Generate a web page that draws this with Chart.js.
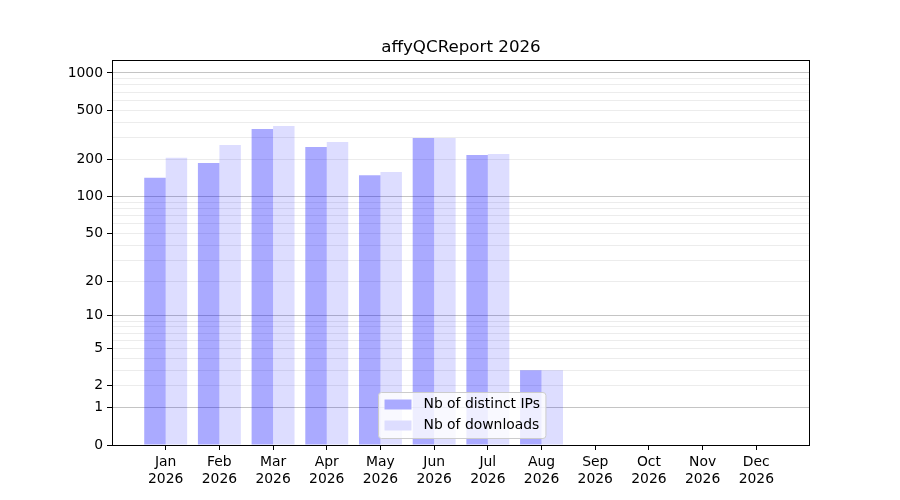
<!DOCTYPE html>
<html>
<head>
<meta charset="utf-8">
<title>affyQCReport 2026</title>
<script src="https://cdn.jsdelivr.net/npm/chart.js@4/dist/chart.umd.min.js"></script>
<style>
    body { margin: 0; background: #fff; }
    #wrap { width: 900px; height: 500px; }
</style>
</head>
<body>
<div id="wrap"><canvas id="statsChart" width="900" height="500"></canvas></div>
<script>
// Monthly download stats, y axis is log10(n + 1)
const chartTitle = 'affyQCReport 2026';
const months = ['Jan', 'Feb', 'Mar', 'Apr', 'May', 'Jun', 'Jul', 'Aug', 'Sep', 'Oct', 'Nov', 'Dec'];
const year = '2026';
const distinctIPs = [142, 187, 353, 252, 149, 298, 217, 3, 0, 0, 0, 0];
const downloads = [206, 262, 373, 277, 158, 298, 221, 3, 0, 0, 0, 0];
const yTickLabels = [0, 1, 2, 5, 10, 20, 50, 100, 200, 500, 1000];
const yMajorGrid = [1, 10, 100, 1000];
const yMinorGrid = [3, 4, 6, 7, 8, 9, 30, 40, 60, 70, 80, 90, 300, 400, 600, 700, 800, 900];
const yTop = 1273;

const FONT = 'DejaVu Sans';

function toLog(v) { return Math.log10(v + 1); }
function fromLog(v) { return Math.round(Math.pow(10, v) - 1); }

const yTickValues = yTickLabels.concat(yMinorGrid).sort((a, b) => a - b);

function series(values) {
    return values.map((v, i) => ({ x: i + 1, y: toLog(v) }));
}

// frame around the plot, like matplotlib spines
const framePlugin = {
    id: 'frame',
    afterDatasetsDraw(chart) {
        const a = chart.chartArea;
        const ctx = chart.ctx;
        ctx.save();
        ctx.strokeStyle = '#000';
        ctx.lineWidth = 1;
        ctx.strokeRect(a.left + 0.5, a.top + 0.5, a.right - a.left - 1, a.bottom - a.top);
        ctx.restore();
    }
};

const titlePlugin = {
    id: 'plotTitle',
    afterDraw(chart) {
        const a = chart.chartArea;
        const ctx = chart.ctx;
        ctx.save();
        ctx.font = '16.7px "' + FONT + '"';
        ctx.fillStyle = '#000';
        ctx.textAlign = 'center';
        ctx.textBaseline = 'alphabetic';
        ctx.fillText(chartTitle, (a.left + a.right) / 2, a.top - 8);
        ctx.restore();
    }
};

// legend box sitting inside the plot, lower centre
const legendPlugin = {
    id: 'innerLegend',
    afterDraw(chart) {
        const ctx = chart.ctx;
        const a = chart.chartArea;
        const sets = chart.data.datasets;
        ctx.save();
        ctx.font = '13.9px "' + FONT + '"';
        let textW = 0;
        sets.forEach(ds => { textW = Math.max(textW, ctx.measureText(ds.label).width); });
        const w = 6 + 27 + 12 + textW + 6;
        const h = 46;
        const x = 378.5;
        const y = a.bottom - 7 - h + 0.5;
        ctx.beginPath();
        ctx.roundRect(x, y, w, h, 3);
        ctx.fillStyle = 'rgba(255,255,255,0.8)';
        ctx.fill();
        ctx.strokeStyle = '#cccccc';
        ctx.lineWidth = 1;
        ctx.stroke();
        sets.forEach((ds, i) => {
            const cy = y + 12 + i * 21;
            ctx.fillStyle = 'rgba(255,255,255,1)';
            ctx.fillRect(x + 6, cy - 5, 27, 10);
            ctx.fillStyle = ds.backgroundColor;
            ctx.fillRect(x + 6, cy - 5, 27, 10);
            ctx.fillStyle = '#000';
            ctx.textAlign = 'left';
            ctx.textBaseline = 'middle';
            ctx.fillText(ds.label, x + 45, cy);
        });
        ctx.restore();
    }
};

new Chart(document.getElementById('statsChart'), {
    type: 'bar',
    data: {
        datasets: [{
            label: 'Nb of distinct IPs',
            data: series(distinctIPs),
            backgroundColor: 'rgba(0,0,255,0.333)',
            borderWidth: 0
        }, {
            label: 'Nb of downloads',
            data: series(downloads),
            backgroundColor: 'rgba(0,0,255,0.133)',
            borderWidth: 0
        }]
    },
    options: {
        responsive: false,
        animation: false,
        devicePixelRatio: 1,
        categoryPercentage: 0.8,
        barPercentage: 1.0,
        layout: { padding: { top: 60, right: 90, bottom: 0, left: 0 } },
        plugins: {
            legend: { display: false },
            title: { display: false },
            tooltip: { enabled: false }
        },
        scales: {
            x: {
                type: 'linear',
                min: 0,
                max: 13,
                offset: false,
                afterBuildTicks(scale) {
                    scale.ticks = months.map((m, i) => ({ value: i + 1 }));
                },
                afterFit(scale) { scale.height = 55; },
                border: { display: false },
                grid: {
                    offset: false,
                    drawOnChartArea: false,
                    drawTicks: true,
                    tickLength: 5,
                    tickColor: '#000'
                },
                ticks: {
                    autoSkip: false,
                    maxRotation: 0,
                    padding: 4,
                    color: '#000',
                    font: { family: FONT, size: 13.9 },
                    callback: (value) => [months[Math.round(value) - 1], year]
                }
            },
            y: {
                type: 'linear',
                min: 0,
                max: toLog(yTop),
                afterBuildTicks(scale) {
                    scale.ticks = yTickValues.map(v => ({ value: toLog(v) }));
                },
                afterFit(scale) { scale.width = 112; },
                border: { display: false },
                grid: {
                    tickLength: 5,
                    color: (c) => {
                        const v = fromLog(c.tick.value);
                        if (v === 0) return 'rgba(0,0,0,0)';
                        return yMajorGrid.includes(v) ? '#c4c4c4' : '#ececec';
                    },
                    tickColor: (c) => yTickLabels.includes(fromLog(c.tick.value)) ? '#000' : 'rgba(0,0,0,0)'
                },
                ticks: {
                    autoSkip: false,
                    padding: 4,
                    color: '#000',
                    font: { family: FONT, size: 13.9 },
                    callback: (value) => {
                        const v = fromLog(value);
                        return yTickLabels.includes(v) ? String(v) : '';
                    }
                }
            }
        }
    },
    plugins: [framePlugin, titlePlugin, legendPlugin]
});
</script>
</body>
</html>
